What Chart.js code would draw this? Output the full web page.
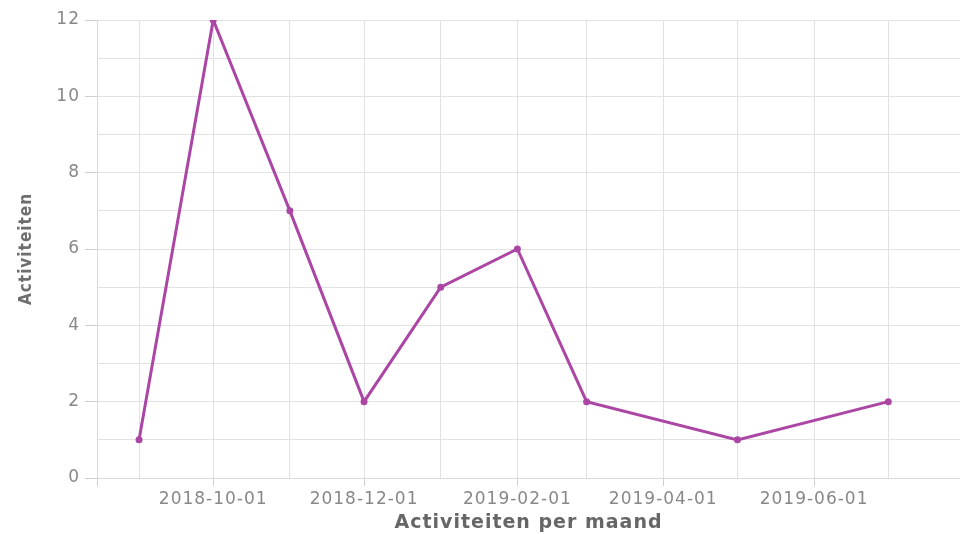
<!DOCTYPE html>
<html>
<head>
<meta charset="utf-8">
<script src="https://cdn.jsdelivr.net/npm/chart.js@4.4.1/dist/chart.umd.min.js"></script>
<style>
  html, body { margin: 0; padding: 0; background: #fff; }
  #wrap { width: 960px; height: 534px; }
</style>
</head>
<body>
<div id="wrap"><canvas id="grafiek"></canvas></div>
<script>
// Gegevens (per maand)
const maanden = ['2018-09-01', '2018-10-01', '2018-11-01', '2018-12-01', '2019-01-01',
                 '2019-02-01', '2019-03-01', '2019-05-01', '2019-07-01'];
const activiteiten = [1, 12, 7, 2, 5, 6, 2, 1, 2];

// As-instellingen
const xBegin = '2018-08-15';
const xEinde = '2019-07-30';
const rasterMaanden = ['2018-09-01', '2018-10-01', '2018-11-01', '2018-12-01', '2019-01-01',
                       '2019-02-01', '2019-03-01', '2019-04-01', '2019-05-01', '2019-06-01', '2019-07-01'];
const xLabels = ['2018-10-01', '2018-12-01', '2019-02-01', '2019-04-01', '2019-06-01'];
const yMax = 12;

const dag = s => Date.parse(s) / 86400000;
const naarDatum = d => new Date(d * 86400000).toISOString().slice(0, 10);

const lijnKleur = '#ac46a4';
const rasterKleur = '#e2e2e2';
const tekstKleur = '#888888';

const punten = maanden.map((m, i) => ({ x: dag(m), y: activiteiten[i] }));

// letterafstand zoals in het origineel
const spatiePlugin = {
    id: 'spatie',
    beforeDraw(chart) {
        chart.ctx.letterSpacing = '1px';
    }
};

new Chart(document.getElementById('grafiek'), {
    type: 'line',
    data: {
        datasets: [{
            label: 'Activiteiten',
            data: punten,
            borderColor: lijnKleur,
            backgroundColor: lijnKleur,
            borderWidth: 3,
            pointRadius: 2,
            pointBackgroundColor: lijnKleur,
            tension: 0
        }]
    },
    options: {
        responsive: true,
        maintainAspectRatio: false,
        animation: false,
        layout: { autoPadding: false, padding: { top: 20, right: 0, left: 0, bottom: 0 } },
        plugins: {
            legend: { display: false },
            tooltip: { enabled: false }
        },
        scales: {
            x: {
                type: 'linear',
                min: dag(xBegin),
                max: dag(xEinde),
                afterBuildTicks: scale => {
                    scale.ticks = [xBegin, ...rasterMaanden].map(m => ({ value: dag(m) }));
                },
                afterFit: scale => { scale.height = 56; },
                ticks: {
                    autoSkip: false,
                    maxRotation: 0,
                    padding: 3,
                    color: tekstKleur,
                    font: { family: 'DejaVu Sans', size: 17 },
                    callback: v => {
                        const d = naarDatum(v);
                        return xLabels.includes(d) ? d : '';
                    }
                },
                grid: {
                    color: rasterKleur,
                    tickLength: 8,
                    tickColor: ctx => {
                        if (!ctx.tick) return 'transparent';
                        const d = naarDatum(ctx.tick.value);
                        return (xLabels.includes(d) || d === xBegin) ? '#cfcfcf' : 'transparent';
                    }
                },
                border: { color: '#dadada' },
                title: {
                    display: true,
                    text: 'Activiteiten per maand',
                    color: '#666666',
                    font: { family: 'DejaVu Sans', size: 19, weight: 'bold' },
                    padding: { top: 0, bottom: 0 }
                }
            },
            y: {
                min: 0,
                max: yMax,
                afterFit: scale => { scale.width = 97; },
                ticks: {
                    stepSize: 1,
                    padding: 5,
                    color: tekstKleur,
                    font: { family: 'DejaVu Sans', size: 17 },
                    callback: v => (v % 2 === 0 ? v : '')
                },
                grid: {
                    color: rasterKleur,
                    tickLength: 12,
                    tickColor: ctx => (ctx.tick && ctx.tick.value % 2 === 0 ? '#cfcfcf' : 'transparent')
                },
                border: { color: '#dadada' },
                title: {
                    display: true,
                    text: 'Activiteiten',
                    color: '#6e6e6e',
                    font: { family: "'DejaVu Sans Condensed', sans-serif", size: 17, weight: 'bold' },
                    padding: { top: 16, bottom: 0 }
                }
            }
        }
    },
    plugins: [spatiePlugin]
});
</script>
</body>
</html>
